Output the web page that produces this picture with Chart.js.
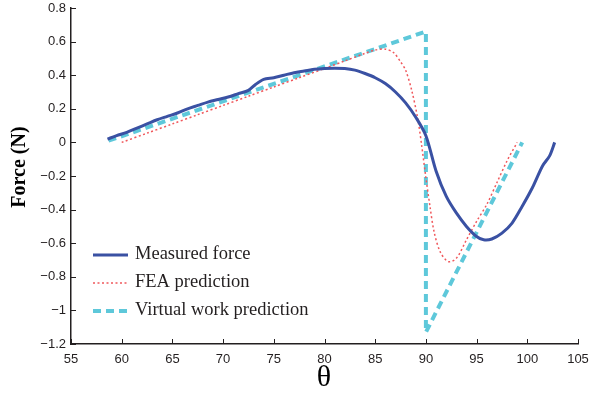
<!DOCTYPE html>
<html>
<head>
<meta charset="utf-8">
<script src="https://cdn.jsdelivr.net/npm/chart.js@4.4.0/dist/chart.umd.min.js"></script>
<style>
  html, body { margin: 0; padding: 0; background: #fff; }
  #wrap { width: 589px; height: 393px; }
</style>
</head>
<body>
<div id="wrap"><canvas id="forceChart" width="589" height="393"></canvas></div>
<script>
// measured force vs angle
var measuredTheta = [58.6, 59.5, 60.5, 61.5, 62.5, 63.5, 64.5, 65.5, 66.5, 67.5, 68.5, 69.5, 70.5, 71.5, 72.5, 73.2, 74.0, 75.0, 76.0, 77.0, 78.0, 79.0, 80.0, 81.0, 82.0, 83.0, 84.0, 85.0, 86.0, 87.0, 88.0, 89.0, 90.0, 91.0, 92.0, 93.0, 94.0, 95.0, 95.7, 96.5, 97.5, 98.5, 99.5, 100.5, 101.5, 102.2, 102.7];
var measuredForce = [0.02, 0.04, 0.06, 0.085, 0.11, 0.135, 0.155, 0.175, 0.2, 0.22, 0.24, 0.255, 0.27, 0.29, 0.31, 0.345, 0.375, 0.385, 0.40, 0.415, 0.425, 0.435, 0.44, 0.442, 0.44, 0.43, 0.41, 0.385, 0.35, 0.30, 0.235, 0.15, 0.04, -0.17, -0.32, -0.42, -0.5, -0.56, -0.58, -0.575, -0.54, -0.48, -0.38, -0.27, -0.14, -0.08, 0.0];

// finite element prediction
var feaTheta = [60, 62.5, 65, 67.5, 70, 72.5, 75, 77.5, 80, 82, 84, 85, 86, 86.8, 87.5, 88, 88.6, 89.2, 89.6, 90, 90.4, 90.8, 91.4, 92.2, 93, 94, 95, 96, 97, 98, 99];
var feaForce = [0.0, 0.055, 0.11, 0.165, 0.22, 0.275, 0.33, 0.385, 0.44, 0.485, 0.53, 0.55, 0.555, 0.535, 0.48, 0.43, 0.31, 0.14, -0.026, -0.21, -0.38, -0.53, -0.65, -0.71, -0.69, -0.58, -0.47, -0.37, -0.24, -0.11, 0.0];

// virtual work prediction
var vwTheta = [58.7, 90, 90, 99.5];
var vwForce = [0.01, 0.66, -1.13, 0.0];

var xTicks = [55, 60, 65, 70, 75, 80, 85, 90, 95, 100, 105];
var yTicks = [-1.2, -1, -0.8, -0.6, -0.4, -0.2, 0, 0.2, 0.4, 0.6, 0.8];

var xTitle = '\u03b8';
var yTitle = 'Force (N)';

function pairs(xs, ys) {
  return xs.map(function (x, i) { return { x: x, y: ys[i] }; });
}

function fmt(v) {
  var s = String(Math.round(v * 10) / 10);
  return s.replace('-', '\u2212');
}

var axisColor = '#231f20';
var serif = '"Liberation Serif", "Times New Roman", serif';

// MATLAB style ticks pointing into the plot, axis titles and legend
var decorations = {
  id: 'decorations',
  afterDraw: function (chart) {
    var c = chart.ctx, a = chart.chartArea;
    var xs = chart.scales.x, ys = chart.scales.y;
    c.save();
    c.strokeStyle = axisColor;
    c.lineWidth = 1;
    xTicks.forEach(function (t) {
      var px = Math.round(xs.getPixelForValue(t)) + 0.5;
      c.beginPath(); c.moveTo(px, a.bottom); c.lineTo(px, a.bottom - 5); c.stroke();
    });
    yTicks.forEach(function (t) {
      var py = Math.round(ys.getPixelForValue(t)) + 0.5;
      c.beginPath(); c.moveTo(a.left, py); c.lineTo(a.left + 5, py); c.stroke();
    });

    // axis titles
    c.fillStyle = '#000';
    c.textAlign = 'center';
    c.textBaseline = 'middle';
    c.font = '30px ' + serif;
    c.fillText(xTitle, 324, 378);
    c.save();
    c.translate(20, 167);
    c.rotate(-Math.PI / 2);
    c.font = 'bold 20px ' + serif;
    c.fillText(yTitle, 0, 0);
    c.restore();

    // legend
    var lx = 93, ly = 255, gap = 28;
    c.font = '18.5px ' + serif;
    c.textAlign = 'left';
    c.fillStyle = axisColor;
    chart.data.datasets.forEach(function (ds, i) {
      var y = ly + i * gap;
      c.save();
      c.strokeStyle = ds.borderColor;
      c.lineWidth = ds.borderWidth;
      c.setLineDash(ds.borderDash || []);
      c.beginPath(); c.moveTo(lx, y); c.lineTo(lx + 35, y); c.stroke();
      c.restore();
      c.fillText(ds.label, lx + 42, y - 1);
    });
    c.restore();
  }
};

new Chart(document.getElementById('forceChart').getContext('2d'), {
  type: 'line',
  data: {
    datasets: [{
      label: 'Measured force',
      data: pairs(measuredTheta, measuredForce),
      borderColor: '#3a51a3',
      borderWidth: 3,
      pointRadius: 0,
      tension: 0.3
    }, {
      label: 'FEA prediction',
      data: pairs(feaTheta, feaForce),
      borderColor: '#f0585c',
      borderWidth: 1.5,
      borderDash: [2, 2.5],
      pointRadius: 0,
      tension: 0.3
    }, {
      label: 'Virtual work prediction',
      data: pairs(vwTheta, vwForce),
      borderColor: '#5ec8da',
      borderWidth: 4,
      borderDash: [8, 5],
      pointRadius: 0,
      tension: 0
    }]
  },
  options: {
    responsive: false,
    animation: false,
    layout: { padding: { top: 8, right: 11, left: 0, bottom: 0 } },
    plugins: {
      legend: { display: false },
      tooltip: { enabled: false }
    },
    scales: {
      x: {
        type: 'linear',
        min: 55, max: 105,
        afterBuildTicks: function (s) { s.ticks = xTicks.map(function (v) { return { value: v }; }); },
        afterFit: function (s) {
          s.height = 49;
          s.paddingLeft = 0;
          s.paddingRight = 0;
        },
        grid: { display: false, drawTicks: false },
        border: { display: true, color: axisColor, width: 1.5 },
        ticks: {
          padding: 8,
          color: axisColor,
          font: { family: '"Liberation Sans", Arial, sans-serif', size: 13 },
          maxRotation: 0,
          callback: function (v) { return fmt(v); }
        }
      },
      y: {
        type: 'linear',
        min: -1.2, max: 0.8,
        afterBuildTicks: function (s) { s.ticks = yTicks.map(function (v) { return { value: v }; }); },
        afterFit: function (s) {
          s.width = 71;
          s.paddingTop = 0;
          s.paddingBottom = 0;
        },
        grid: { display: false, drawTicks: false },
        border: { display: true, color: axisColor, width: 1.5 },
        ticks: {
          padding: 5,
          color: axisColor,
          font: { family: '"Liberation Sans", Arial, sans-serif', size: 13 },
          callback: function (v) { return fmt(v); }
        }
      }
    }
  },
  plugins: [decorations]
});
</script>
</body>
</html>
